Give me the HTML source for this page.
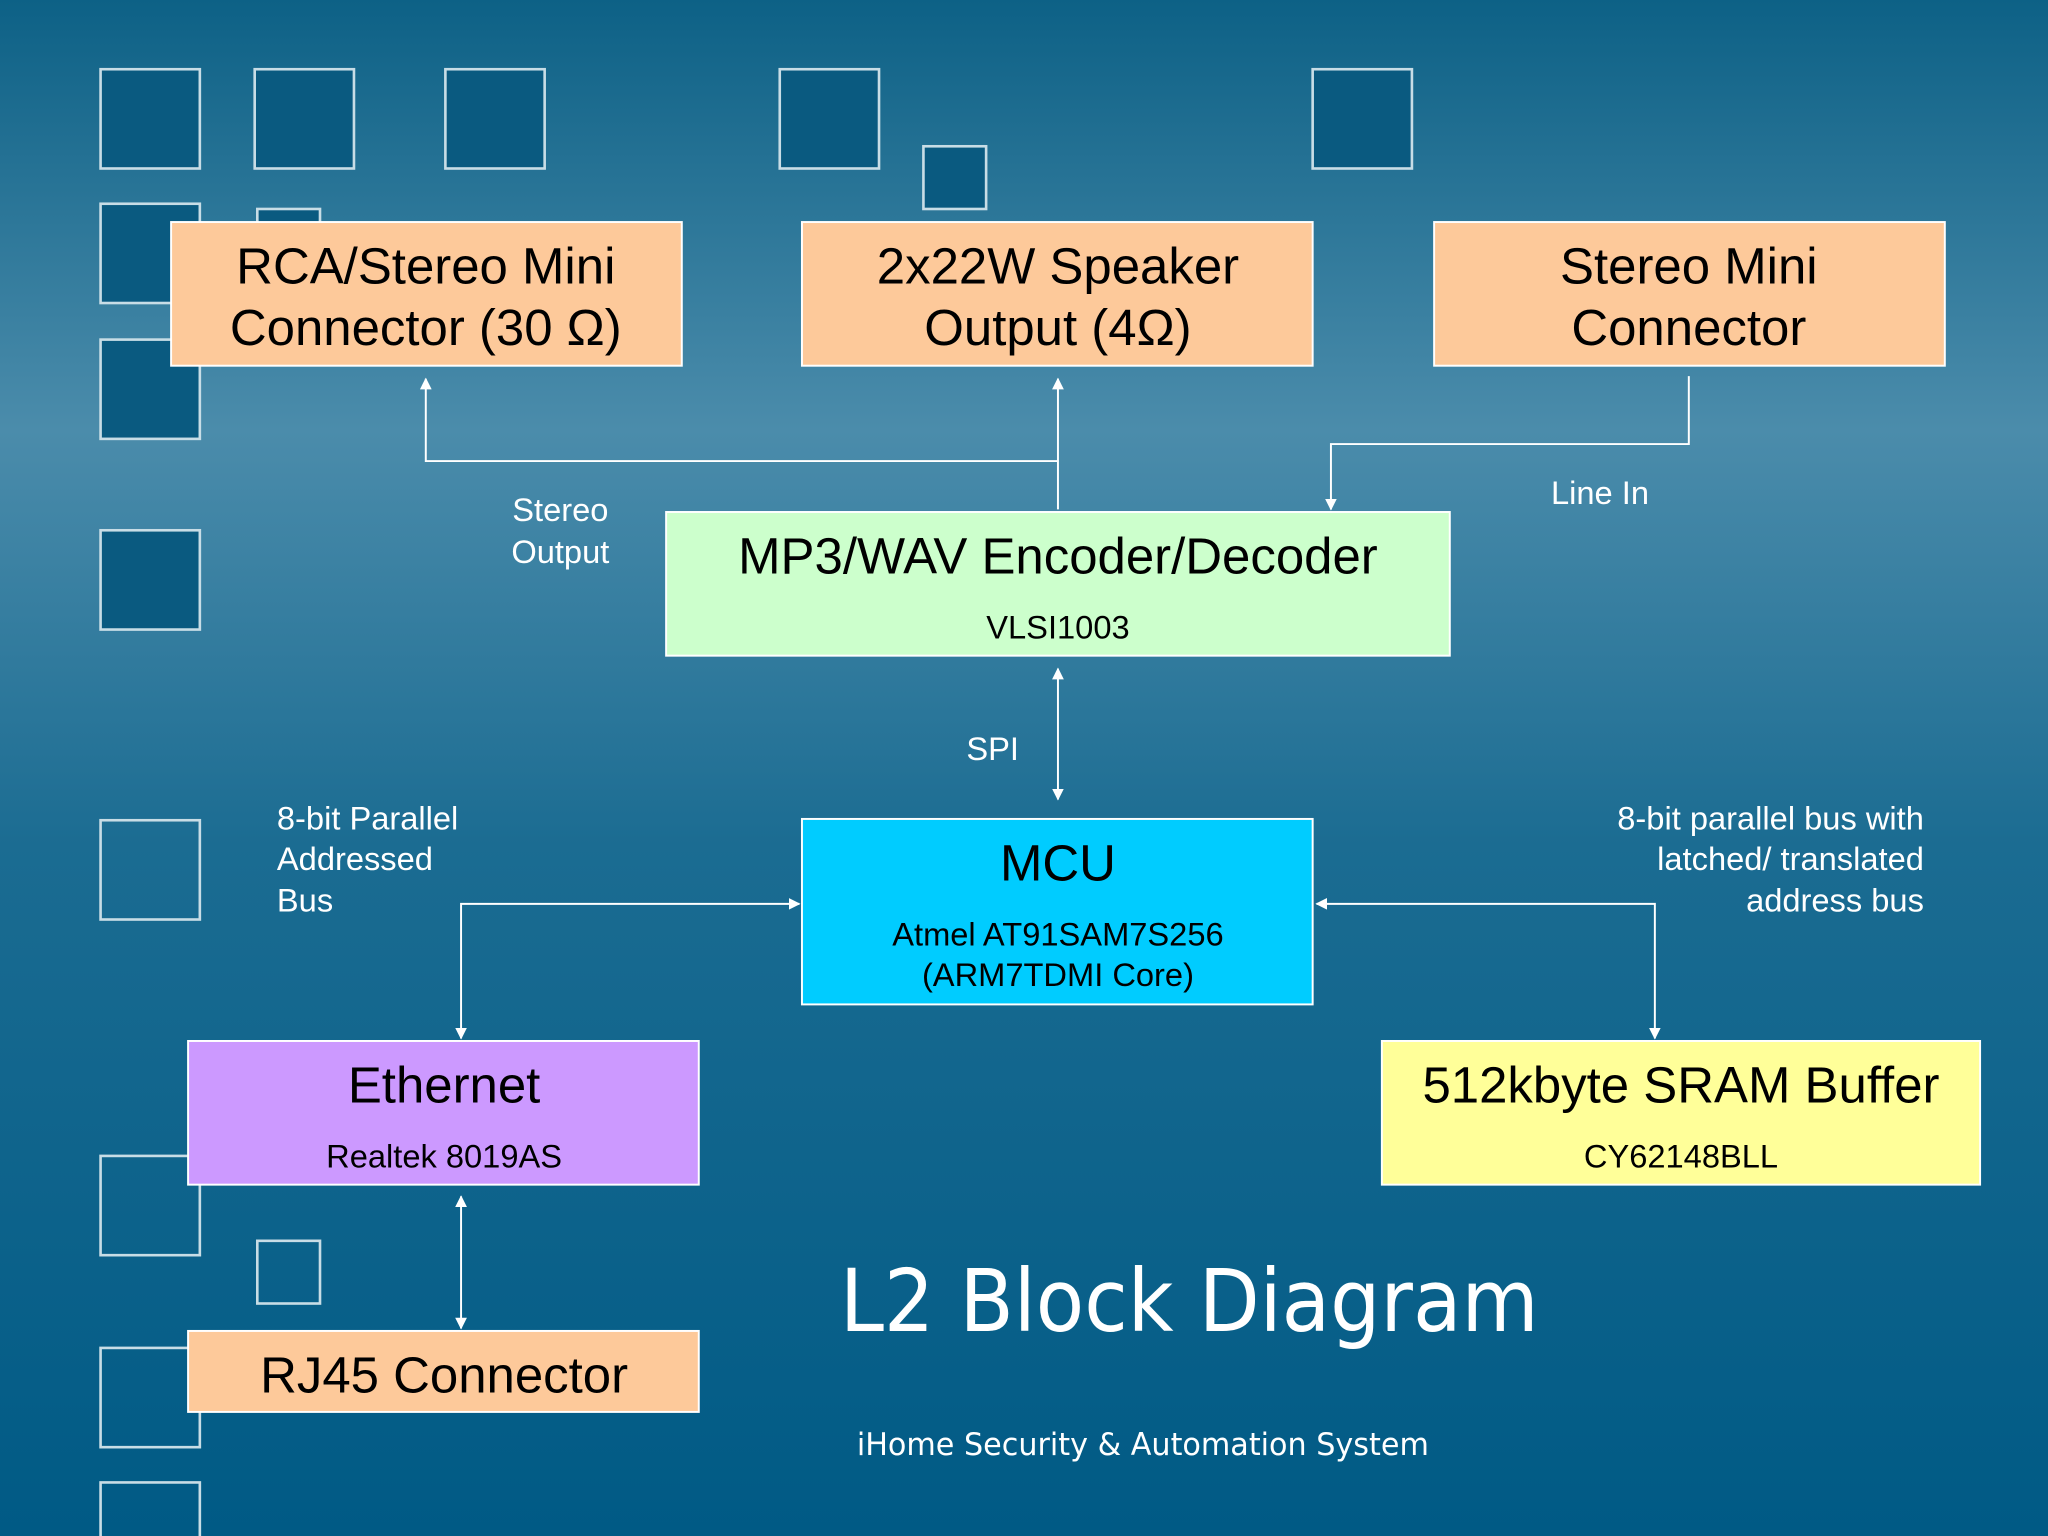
<!DOCTYPE html>
<html><head><meta charset="utf-8"><style>
html,body{margin:0;padding:0;width:2048px;height:1536px;overflow:hidden}
svg{display:block}
</style></head><body>
<svg width="2048" height="1536" viewBox="0 0 1568 1176" xmlns="http://www.w3.org/2000/svg" font-family="Liberation Sans, sans-serif">
<defs>
<linearGradient id="bg" x1="0" y1="0" x2="0" y2="1">
<stop offset="0" stop-color="#0d6186"/>
<stop offset="0.28" stop-color="#4b8cab"/>
<stop offset="0.55" stop-color="#1b6c92"/>
<stop offset="1" stop-color="#005a85"/>
</linearGradient>
<marker id="a" viewBox="0 0 10 10" refX="9" refY="5" markerWidth="9" markerHeight="9" orient="auto-start-reverse" markerUnits="userSpaceOnUse"><path d="M0,0 L10,5 L0,10 z" fill="#fff"/></marker>
</defs>
<rect width="1568" height="1176" fill="url(#bg)"/>
<g stroke="#c8dde6" stroke-width="2" fill="#0a5a80">
<rect x="77" y="53" width="76" height="76"/>
<rect x="195" y="53" width="76" height="76"/>
<rect x="341" y="53" width="76" height="76"/>
<rect x="597" y="53" width="76" height="76"/>
<rect x="1005" y="53" width="76" height="76"/>
<rect x="707" y="112" width="48" height="48"/>
<rect x="77" y="156" width="76" height="76"/>
<rect x="197" y="160" width="48" height="48"/>
<rect x="77" y="260" width="76" height="76"/>
<rect x="77" y="406" width="76" height="76"/>
</g>
<g stroke="#c8dde6" stroke-width="2" fill="none">
<rect x="77" y="628" width="76" height="76"/>
<rect x="77" y="885" width="76" height="76"/>
<rect x="197" y="950" width="48" height="48"/>
<rect x="77" y="1032" width="76" height="76"/>
<rect x="77" y="1135" width="76" height="76"/>
</g>
<g stroke="#fff" stroke-width="1.5">
<rect x="131" y="170" width="391" height="110" fill="#fdc99a"/>
<rect x="614" y="170" width="391" height="110" fill="#fdc99a"/>
<rect x="1098" y="170" width="391" height="110" fill="#fdc99a"/>
<rect x="510" y="392" width="600" height="110" fill="#ccffcc"/>
<rect x="614" y="627" width="391" height="142" fill="#00ccff"/>
<rect x="144" y="797" width="391" height="110" fill="#cc99ff"/>
<rect x="1058" y="797" width="458" height="110" fill="#ffff99"/>
<rect x="144" y="1019" width="391" height="62" fill="#fdc99a"/>
</g>
<g stroke="#fff" stroke-width="1.5" fill="none">
<path d="M810,390 V290" marker-end="url(#a)"/>
<path d="M810,353 H326 V290" marker-end="url(#a)"/>
<path d="M1293,288 V340 H1019 V390" marker-end="url(#a)"/>
<path d="M810,512 V612" marker-start="url(#a)" marker-end="url(#a)"/>
<path d="M353,795 V692 H612" marker-start="url(#a)" marker-end="url(#a)"/>
<path d="M1008,692 H1267 V795" marker-start="url(#a)" marker-end="url(#a)"/>
<path d="M353,916 V1017" marker-start="url(#a)" marker-end="url(#a)"/>
</g>
<g fill="#000" text-anchor="middle" font-size="39">
<text x="326" y="217">RCA/Stereo Mini</text>
<text x="326" y="264">Connector (30 Ω)</text>
<text x="810" y="217">2x22W Speaker</text>
<text x="810" y="264">Output (4Ω)</text>
<text x="1293" y="217">Stereo Mini</text>
<text x="1293" y="264">Connector</text>
<text x="810" y="439">MP3/WAV Encoder/Decoder</text>
<text x="810" y="674">MCU</text>
<text x="340" y="844">Ethernet</text>
<text x="1287" y="844">512kbyte SRAM Buffer</text>
<text x="340" y="1066">RJ45 Connector</text>
<g font-size="25">
<text x="810" y="489">VLSI1003</text>
<text x="810" y="724">Atmel AT91SAM7S256</text>
<text x="810" y="755">(ARM7TDMI Core)</text>
<text x="340" y="894">Realtek 8019AS</text>
<text x="1287" y="894">CY62148BLL</text>
</g>
</g>
<g fill="#fff" font-size="25">
<text x="429" y="399" text-anchor="middle">Stereo</text>
<text x="429" y="431" text-anchor="middle">Output</text>
<text x="1225" y="386" text-anchor="middle">Line In</text>
<text x="760" y="582" text-anchor="middle">SPI</text>
<text x="212" y="635">8-bit Parallel</text>
<text x="212" y="666">Addressed</text>
<text x="212" y="698">Bus</text>
<text x="1473" y="635" text-anchor="end">8-bit parallel bus with</text>
<text x="1473" y="666" text-anchor="end">latched/ translated</text>
<text x="1473" y="698" text-anchor="end">address bus</text>
<text x="643" y="1019" font-size="66" font-family="DejaVu Sans, sans-serif" textLength="535" lengthAdjust="spacingAndGlyphs">L2 Block Diagram</text>
<text x="656" y="1114" font-size="24" font-family="DejaVu Sans, sans-serif" textLength="438" lengthAdjust="spacingAndGlyphs">iHome Security &amp; Automation System</text>
</g>
</svg>
</body></html>
